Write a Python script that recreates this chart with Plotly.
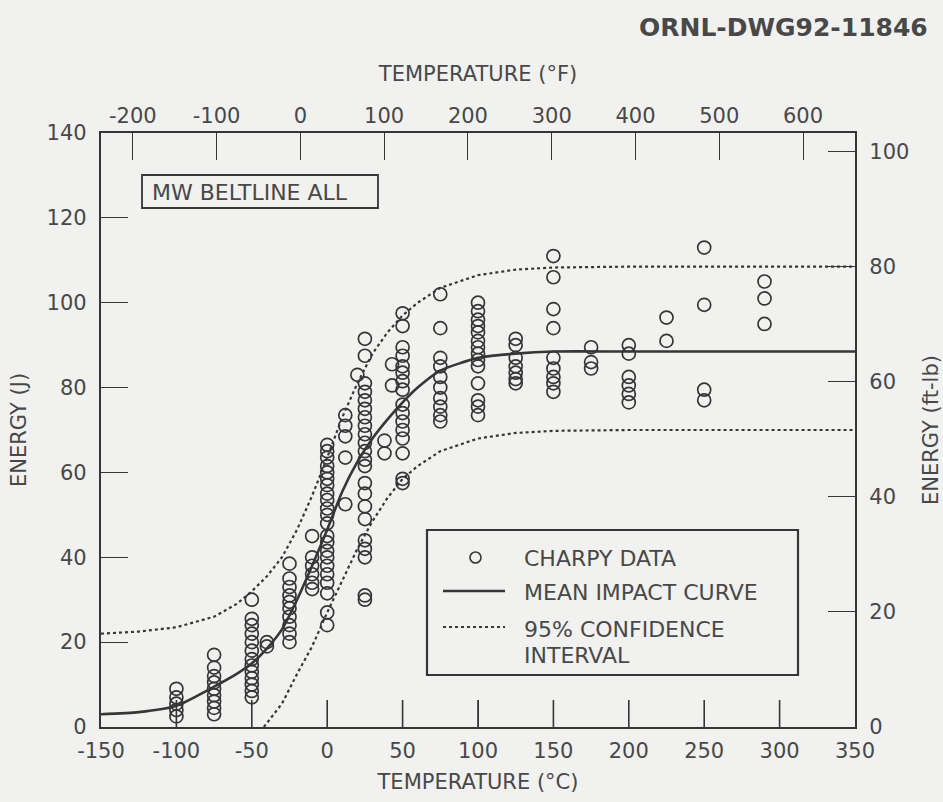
import plotly.graph_objects as go

# Charpy impact test results, grouped by test temperature (deg C) -> energies (J)
test_temps_c = [-100, -75, -50, -40, -25, -10, 0, 12, 20, 25, 38, 43, 50,
                75, 100, 125, 150, 175, 200, 225, 250, 290]
energy_by_temp = [
    [9, 7, 5.5, 4, 2.5],
    [17, 14, 12, 10.5, 9, 7.5, 6, 4.5, 3],
    [30, 25.5, 24, 22, 20, 18, 16, 14.5, 13, 11.5, 10, 8.5, 7],
    [20, 19],
    [38.5, 35, 33, 31, 29.5, 28, 26, 24, 22, 20],
    [45, 40, 38, 36, 34, 32.5],
    [66.5, 65, 63.5, 61.5, 60, 58.5, 57, 55, 53.5, 51.5, 50, 48, 45, 43.5,
     41.5, 40, 38, 36, 34, 31.5, 27, 24],
    [73.5, 71, 68.5, 63.5, 52.5],
    [83],
    [91.5, 87.5, 81, 79, 77, 75, 73, 71, 69, 67, 65, 63, 61.5, 57.5, 55, 52,
     49, 44, 42, 40, 31, 30],
    [67.5, 64.5],
    [85.5, 80.5],
    [97.5, 94.5, 89.5, 87.5, 85, 83.5, 81.5, 79.5, 76, 74, 72, 70, 68, 64.5,
     58.5, 57.5],
    [102, 94, 87, 85, 82.5, 80, 77.5, 75.5, 73.5, 72],
    [100, 98, 96, 94.5, 93, 91, 89.5, 88, 86.5, 85, 81, 77, 75.5, 73.5],
    [91.5, 90, 87, 85, 83.5, 82, 81],
    [111, 106, 98.5, 94, 87, 84.5, 82.5, 81, 79],
    [89.5, 86, 84.5],
    [90, 88, 82.5, 80.5, 78.5, 76.5],
    [96.5, 91],
    [113, 99.5, 79.5, 77],
    [105, 101, 95],
]

# Fitted transition curve and its 95% band (deg C, J)
curve_temps_c = [-150, -125, -100, -75, -60, -50, -40, -30, -20, -10, 0, 10,
                 20, 30, 40, 50, 60, 75, 100, 125, 150, 200, 250, 300, 350]
mean_energy = [3, 3.5, 5, 9.5, 12.5, 15, 18.5, 23, 30, 38, 46.5, 55.5,
               62.5, 68, 72.5, 76.5, 80, 84, 87, 88, 88.5, 88.5, 88.5, 88.5,
               88.5]
upper_energy = [22, 22.5, 23.5, 26, 29, 32, 35.5, 40, 46.5, 54.5, 63.5, 73,
                81, 88, 93, 97, 100, 103.5, 106.5, 107.8, 108.3, 108.5,
                108.5, 108.5, 108.5]
lower_temps_c = [-42, -30, -20, -10, 0, 10, 20, 30, 40, 50, 60, 75, 100, 125,
                 150, 200, 250, 300, 350]
lower_energy = [0, 5.5, 12.5, 19, 27, 34.5, 42, 48.5, 54, 58.5, 61.5, 65,
                68, 69.3, 69.8, 70, 70, 70, 70]

# Axis scales
c_range = [-150, 350]
j_range = [0, 140]
c_ticks = [-150, -100, -50, 0, 50, 100, 150, 200, 250, 300, 350]
j_ticks = [0, 20, 40, 60, 80, 100, 120, 140]
f_ticks = [-200, -100, 0, 100, 200, 300, 400, 500, 600]
ftlb_ticks = [0, 20, 40, 60, 80, 100]
J_PER_FTLB = 1.355818

f_range = [c_range[0] * 1.8 + 32, c_range[1] * 1.8 + 32]
ftlb_range = [j_range[0] / J_PER_FTLB, j_range[1] / J_PER_FTLB]

INK = "#363636"
TEXT = "#484848"
PAPER = "#f1f1ef"
FONT = "DejaVu Sans"
TICK_LEN = 27

pts_x = [t for t, es in zip(test_temps_c, energy_by_temp) for _ in es]
pts_y = [e for es in energy_by_temp for e in es]

fig = go.Figure()
fig.add_trace(go.Scatter(
    x=curve_temps_c, y=upper_energy, mode="lines", name="95% CONFIDENCE",
    line=dict(color=INK, width=2.2, dash="dot"), showlegend=False))
fig.add_trace(go.Scatter(
    x=lower_temps_c, y=lower_energy, mode="lines", showlegend=False,
    line=dict(color=INK, width=2.2, dash="dot")))
fig.add_trace(go.Scatter(
    x=curve_temps_c, y=mean_energy, mode="lines", name="MEAN IMPACT CURVE",
    line=dict(color=INK, width=2.6, shape="spline", smoothing=0.6),
    showlegend=False))
fig.add_trace(go.Scatter(
    x=pts_x, y=pts_y, mode="markers", name="CHARPY DATA", showlegend=False,
    marker=dict(symbol="circle-open", size=13,
                line=dict(color=INK, width=1.7), color=INK)))
# Secondary (deg F / ft-lb) scales need a trace bound to them to be drawn
fig.add_trace(go.Scatter(
    x=f_range, y=ftlb_range, xaxis="x2", yaxis="y2", mode="markers",
    marker=dict(opacity=0), hoverinfo="skip", showlegend=False))

axis_common = dict(
    showline=True, linecolor=INK, linewidth=2.2, ticks="inside",
    tickcolor=INK, tickwidth=1.4, ticklen=TICK_LEN, showgrid=False,
    zeroline=False, automargin=False,
    tickfont=dict(family=FONT, size=21, color=TEXT),
)
title_font = dict(family=FONT, size=21, color=TEXT)

fig.update_layout(
    width=943, height=802,
    margin=dict(l=101, r=88, t=133, b=75),
    paper_bgcolor=PAPER, plot_bgcolor=PAPER,
    font=dict(family=FONT, color=TEXT),
    showlegend=False,
    xaxis=dict(range=c_range, tickvals=c_ticks,
               ticktext=[str(v) for v in c_ticks], ticklabelstandoff=4,
               title=dict(text="TEMPERATURE (°C)", standoff=12,
                          font=title_font),
               **axis_common),
    xaxis2=dict(range=f_range, tickvals=f_ticks,
                ticktext=[str(v) for v in f_ticks], overlaying="x",
                side="top", anchor="y",
                title=dict(text="TEMPERATURE (°F)", standoff=16,
                           font=title_font),
                **axis_common),
    yaxis=dict(range=j_range, tickvals=j_ticks, ticklabelstandoff=8,
               title=dict(text="ENERGY (J)", standoff=14, font=title_font),
               **axis_common),
    yaxis2=dict(range=ftlb_range, tickvals=ftlb_ticks, overlaying="y",
                side="right", anchor="x", ticklabelstandoff=8,
                title=dict(text="ENERGY (ft-lb)", standoff=18,
                           font=title_font),
                **axis_common),
)

# Pixel-to-paper helpers for the inset boxes
PL, PR, PT, PB = 101, 855, 133, 727


def px(x):
    return (x - PL) / (PR - PL)


def py(y):
    return (PB - y) / (PB - PT)


# inward tick marks along the deg C scale, placed on the x data scale
shapes = [
    dict(type="line", xref="x", yref="paper", x0=t, x1=t, y0=0,
         y1=TICK_LEN / (PB - PT), line=dict(color=INK, width=1.6))
    for t in c_ticks[1:-1]
]

shapes += [
    # sample label box
    dict(type="rect", xref="paper", yref="paper", x0=px(142), x1=px(378),
         y0=py(208), y1=py(175), line=dict(color=INK, width=1.8)),
    # legend frame
    dict(type="rect", xref="paper", yref="paper", x0=px(427), x1=px(798),
         y0=py(675), y1=py(530), line=dict(color=INK, width=2.2)),
    # legend keys
    dict(type="circle", xref="paper", yref="paper", x0=px(470), x1=px(481),
         y0=py(563), y1=py(552), line=dict(color=INK, width=1.6)),
    dict(type="line", xref="paper", yref="paper", x0=px(443), x1=px(505),
         y0=py(591), y1=py(591), line=dict(color=INK, width=2.6)),
    dict(type="line", xref="paper", yref="paper", x0=px(443), x1=px(505),
         y0=py(627), y1=py(627), line=dict(color=INK, width=1.8, dash="dot")),
]

annotations = [
    dict(text="MW BELTLINE ALL", x=px(150), y=py(192), xanchor="left",
         yanchor="middle", font=dict(family=FONT, size=22, color=TEXT)),
    dict(text="CHARPY DATA", x=px(522), y=py(558), xanchor="left",
         yanchor="middle"),
    dict(text="MEAN IMPACT CURVE", x=px(522), y=py(592), xanchor="left",
         yanchor="middle"),
    dict(text="95% CONFIDENCE", x=px(522), y=py(629), xanchor="left",
         yanchor="middle"),
    dict(text="INTERVAL", x=px(522), y=py(655), xanchor="left",
         yanchor="middle"),
]
for a in annotations:
    a.update(xref="paper", yref="paper", showarrow=False)
    a.setdefault("font", dict(family=FONT, size=22, color=TEXT))

annotations.append(dict(
    text="<b>ORNL-DWG92-11846</b>", xref="paper", yref="paper",
    x=px(930), y=py(27), xanchor="right", yanchor="middle", showarrow=False,
    font=dict(family=FONT, size=25, color=TEXT)))

fig.update_layout(shapes=shapes, annotations=annotations)

fig.write_html("out.html")
